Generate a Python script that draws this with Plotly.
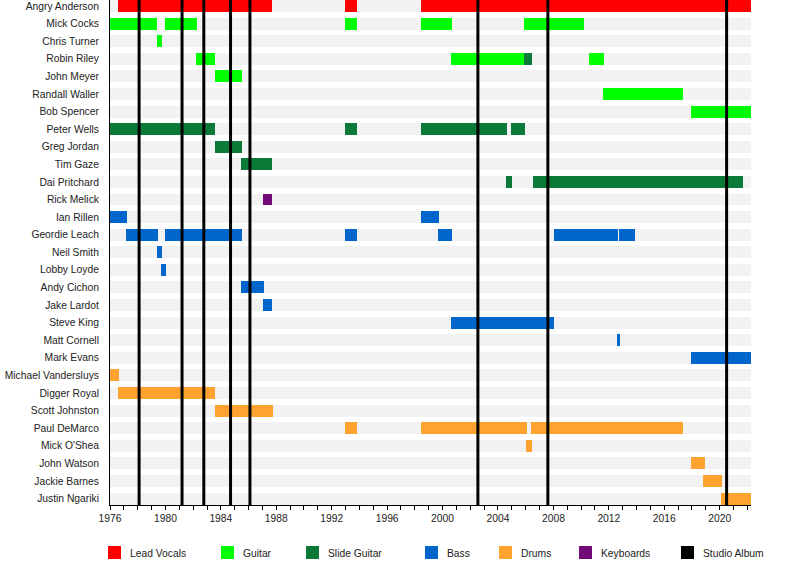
import plotly.graph_objects as go

# Members, top to bottom
members = ["Angry Anderson", "Mick Cocks", "Chris Turner", "Robin Riley", "John Meyer",
           "Randall Waller", "Bob Spencer", "Peter Wells", "Greg Jordan", "Tim Gaze",
           "Dai Pritchard", "Rick Melick", "Ian Rillen", "Geordie Leach", "Neil Smith",
           "Lobby Loyde", "Andy Cichon", "Jake Lardot", "Steve King", "Matt Cornell",
           "Mark Evans", "Michael Vandersluys", "Digger Royal", "Scott Johnston",
           "Paul DeMarco", "Mick O'Shea", "John Watson", "Jackie Barnes", "Justin Ngariki"]

START = 1976.0
END = 2022.26

# stints per role: (member, start, end)
lead_vocals = [("Angry Anderson", 1976.56, 1987.72), ("Angry Anderson", 1992.95, 1993.86),
               ("Angry Anderson", 1998.43, END)]
guitar = [("Mick Cocks", 1976.0, 1979.42), ("Mick Cocks", 1979.95, 1982.26),
          ("Mick Cocks", 1992.95, 1993.86), ("Mick Cocks", 1998.43, 2000.67),
          ("Mick Cocks", 2005.87, 2010.18),
          ("Chris Turner", 1979.37, 1979.73),
          ("Robin Riley", 1982.19, 1983.56), ("Robin Riley", 2000.6, 2005.87),
          ("Robin Riley", 2010.6, 2011.65),
          ("John Meyer", 1983.56, 1985.5),
          ("Randall Waller", 2011.57, 2017.35),
          ("Bob Spencer", 2017.93, END)]
slide_guitar = [("Robin Riley", 2005.87, 2006.45),
                ("Peter Wells", 1976.0, 1983.56), ("Peter Wells", 1992.95, 1993.86),
                ("Peter Wells", 1998.43, 2004.64), ("Peter Wells", 2004.93, 2005.94),
                ("Greg Jordan", 1983.56, 1985.5),
                ("Tim Gaze", 1985.44, 1987.68),
                ("Dai Pritchard", 2004.57, 2005.0), ("Dai Pritchard", 2006.52, 2021.68)]
keyboards = [("Rick Melick", 1987.03, 1987.68)]
bass = [("Ian Rillen", 1976.0, 1977.2), ("Ian Rillen", 1998.43, 1999.73),
        ("Geordie Leach", 1977.13, 1979.44), ("Geordie Leach", 1979.95, 1985.5),
        ("Geordie Leach", 1992.95, 1993.86), ("Geordie Leach", 1999.66, 2000.67),
        ("Geordie Leach", 2008.03, 2012.65), ("Geordie Leach", 2012.73, 2013.88),
        ("Neil Smith", 1979.37, 1979.73),
        ("Lobby Loyde", 1979.66, 1980.02),
        ("Andy Cichon", 1985.44, 1987.1),
        ("Jake Lardot", 1987.03, 1987.68),
        ("Steve King", 2000.6, 2008.03),
        ("Matt Cornell", 2012.58, 2012.8),
        ("Mark Evans", 2017.93, END)]
drums = [("Michael Vandersluys", 1976.0, 1976.63),
         ("Digger Royal", 1976.56, 1983.56),
         ("Scott Johnston", 1983.56, 1987.75),
         ("Paul DeMarco", 1992.95, 1993.86), ("Paul DeMarco", 1998.43, 2006.08),
         ("Paul DeMarco", 2006.37, 2017.35),
         ("Mick O'Shea", 2006.02, 2006.45),
         ("John Watson", 2017.93, 2018.94),
         ("Jackie Barnes", 2018.8, 2020.17),
         ("Justin Ngariki", 2020.1, END)]

studio_albums = [1978.1, 1981.2, 1982.77, 1984.7, 1986.1, 2002.55, 2007.6, 2020.5]

roles = ["Lead Vocals", "Guitar", "Slide Guitar", "Bass", "Drums", "Keyboards", "Studio Album"]
role_colors = ["#FF0000", "#00FF00", "#0B7A38", "#0066CC", "#FFA330", "#720A78", "#000000"]
role_data = [lead_vocals, guitar, slide_guitar, bass, drums, keyboards]

# pixel layout of the plot area
L, R, T, B = 110, 751, 0, 505
W, H = 800, 564
BAR_W = 0.68


def px_x(p):
    return (p - L) / (R - L)


def px_y(p):
    return (B - p) / (B - T)


fig = go.Figure()

# grey row stripes
fig.add_trace(go.Bar(y=members, x=[END - START] * len(members), base=[START] * len(members),
                     orientation="h", width=BAR_W, marker_color="#F2F2F2",
                     marker_line_width=0, showlegend=False, hoverinfo="skip"))

for name, color, stints in zip(roles, role_colors, role_data):
    fig.add_trace(go.Bar(y=[s[0] for s in stints],
                         x=[s[2] - s[1] for s in stints],
                         base=[s[1] for s in stints],
                         orientation="h", width=BAR_W, marker_color=color,
                         marker_line_width=0, name=name, showlegend=False))

for yr in studio_albums:
    fig.add_shape(type="line", xref="x", yref="paper", x0=yr, x1=yr, y0=0, y1=1,
                  line=dict(color="black", width=3), layer="above")

# legend drawn by hand
leg_sw = [108, 221, 306, 425, 499, 579, 681]
for sx, name, color in zip(leg_sw, roles, role_colors):
    fig.add_shape(type="rect", xref="paper", yref="paper",
                  x0=px_x(sx), x1=px_x(sx + 13), y0=px_y(559), y1=px_y(546),
                  fillcolor=color, line_width=0)
    fig.add_annotation(xref="paper", yref="paper", x=px_x(sx + 20), y=px_y(553),
                       text=name, showarrow=False, xanchor="left", yanchor="middle",
                       font=dict(size=10.3, color="#222"))

fig.update_layout(
    width=W, height=H,
    margin=dict(l=L, r=W - R, t=T, b=H - B, autoexpand=False),
    paper_bgcolor="white", plot_bgcolor="white",
    barmode="overlay", bargap=0,
    font=dict(family="Liberation Sans, Arial, sans-serif", size=10.3, color="#222"),
    xaxis=dict(range=[START, END], tickvals=list(range(1976, 2021, 4)),
               showgrid=False, zeroline=False, showline=True, linecolor="black",
               ticks="outside", ticklen=4, tickcolor="black",
               minor=dict(dtick=1, ticks="outside", ticklen=4, tickcolor="black"),
               tickfont=dict(size=10.3)),
    yaxis=dict(type="category", categoryorder="array", categoryarray=members,
               range=[-0.341 + 505 / 17.59, -0.341], showgrid=False, zeroline=False,
               showline=True, linecolor="black", ticks="", ticklabelstandoff=8,
               tickfont=dict(size=10.3)),
)

fig.write_html("out.html", config={"displayModeBar": False},
               post_script="document.body.style.margin='0';")
